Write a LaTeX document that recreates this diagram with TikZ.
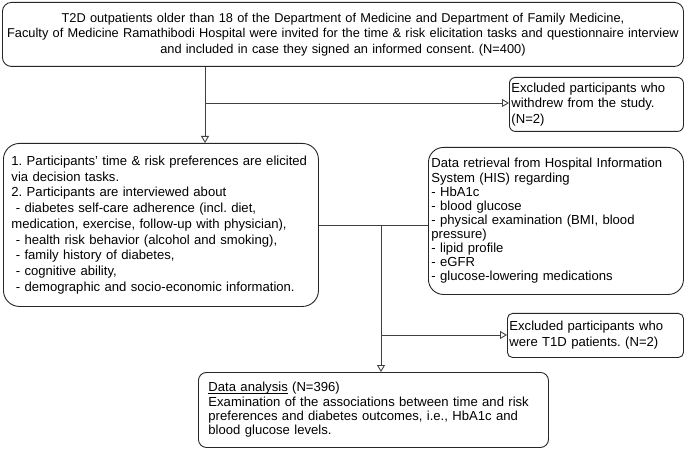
\documentclass[tikz,border=0pt]{standalone}
\usepackage{fontspec}
\setmainfont{Liberation Sans}
\usetikzlibrary{arrows.meta}
\frenchspacing
\newcommand\myul[1]{\setbox0\hbox{#1}\rlap{\rule[-1.8bp]{\wd0}{0.6bp}}#1}
\begin{document}
\begin{tikzpicture}[x=1bp,y=-1bp,
  box/.style={draw=black!85, line width=0.9bp, anchor=north west, inner ysep=0pt,
    font=\fontsize{13.1bp}{15.7bp}\selectfont},
  conn/.style={draw=black!75, line width=0.9bp},
  arr/.style={conn, -{Triangle[open, length=7bp, width=8bp]}}]
\useasboundingbox (0,0) rectangle (685,450);
% top box
\node[box, rounded corners=9bp, minimum width=681bp, minimum height=64bp,
  text width=681bp, inner xsep=0bp, align=center,
  font=\fontsize{12.8bp}{15.5bp}\selectfont] (top) at (2,2)
  {T2D outpatients older than 18 of the Department of Medicine and Department of Family Medicine,\\
   Faculty of Medicine Ramathibodi Hospital were invited for the time \& risk elicitation tasks and questionnaire interview\\
   and included in case they signed an informed consent. (N=400)};
% excluded 1
\node[box, rounded corners=6bp, minimum width=174bp, minimum height=54bp,
  text width=170bp, inner xsep=2bp, align=left] (ex1) at (509,77)
  {Excluded participants who\\withdrew from the study.\\(N=2)};
% left box
\node[box, rounded corners=16bp, minimum width=315bp, minimum height=163bp,
  text width=299bp, inner xsep=8bp, align=left] (left) at (3,143)
  {1. Participants' time \& risk preferences are elicited\\
   via decision tasks.\\
   2. Participants are interviewed about\\
   \ - diabetes self-care adherence (incl. diet,\\
   medication, exercise, follow-up with physician),\\
   \ - health risk behavior (alcohol and smoking),\\
   \ - family history of diabetes,\\
   \ - cognitive ability,\\
   \ - demographic and socio-economic information.};
% right box
\node[box, rounded corners=15bp, minimum width=255bp, minimum height=147bp,
  text width=249bp, inner xsep=3bp, align=left,
  font=\fontsize{13.1bp}{14.1bp}\selectfont] (right) at (428,147)
  {Data retrieval from Hospital Information\\
   System (HIS) regarding\\
   - HbA1c\\
   - blood glucose\\
   - physical examination (BMI, blood\\
   pressure)\\
   - lipid profile\\
   - eGFR\\
   - glucose-lowering medications};
% excluded 2
\node[box, rounded corners=5bp, minimum width=176bp, minimum height=44bp,
  text width=172bp, inner xsep=2bp, align=left,
  font=\fontsize{13.1bp}{16bp}\selectfont] (ex2) at (507,313)
  {Excluded participants who\\were T1D patients. (N=2)};
% data analysis
\node[box, rounded corners=8bp, minimum width=350bp, minimum height=75bp,
  text width=330bp, inner xsep=10bp, align=left,
  font=\fontsize{13.1bp}{14.4bp}\selectfont] (data) at (198,372)
  {\myul{Data analysis} (N=396)\\
   Examination of the associations between time and risk\\
   preferences and diabetes outcomes, i.e., HbA1c and\\
   blood glucose levels.};
% connectors
\coordinate (j1) at (205,103);
\coordinate (j2) at (381,225);
\coordinate (j3) at (381,335);
\draw[arr] (top.south -| j1) -- (left.north -| j1);
\draw[arr] (j1) -- (ex1.west |- j1);
\draw[conn] (left.east |- j2) -- (right.west |- j2);
\draw[arr] (j2) -- (data.north -| j2);
\draw[arr] (j3) -- (ex2.west |- j3);
\end{tikzpicture}
\end{document}
